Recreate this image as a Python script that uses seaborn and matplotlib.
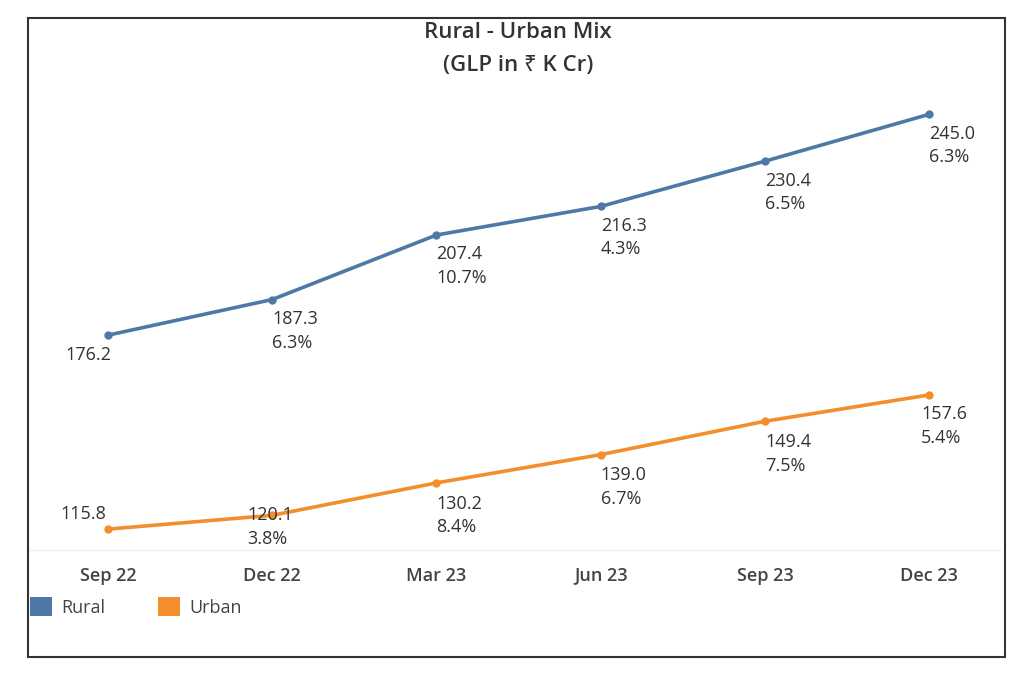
import pandas as pd
import seaborn as sns
import matplotlib.pyplot as plt
from matplotlib.patches import Patch, Rectangle

quarters = ['Sep 22', 'Dec 22', 'Mar 23', 'Jun 23', 'Sep 23', 'Dec 23']
rural = [176.2, 187.3, 207.4, 216.3, 230.4, 245.0]
urban = [115.8, 120.1, 130.2, 139.0, 149.4, 157.6]
rural_growth = ['', '6.3%', '10.7%', '4.3%', '6.5%', '6.3%']
urban_growth = ['', '3.8%', '8.4%', '6.7%', '7.5%', '5.4%']

colors = {'Rural': '#4e79a7', 'Urban': '#f28e2b'}

df = pd.DataFrame({
    'quarter': quarters * 2,
    'idx': list(range(len(quarters))) * 2,
    'value': rural + urban,
    'series': ['Rural'] * len(quarters) + ['Urban'] * len(quarters),
})

sns.set_style('white')
plt.rcParams['font.family'] = ['Open Sans', 'Noto Sans', 'DejaVu Sans']

fig = plt.figure(figsize=(10.3, 6.81), dpi=100)
ax = fig.add_axes([30 / 1030, 1 - 550 / 681, 970 / 1030, 455 / 681])

sns.lineplot(data=df, x='idx', y='value', hue='series', palette=colors,
             marker='o', markersize=6, markeredgewidth=0, linewidth=2.6,
             legend=False, ax=ax)

ax.set_xlim(-0.474, 5.43)
ax.set_ylim(109.3, 251.0)
ax.set_xticks(range(len(quarters)))
ax.set_xticklabels(quarters, fontsize=13, color='#444444', fontweight='semibold')
ax.set_yticks([])
ax.set_xlabel('')
ax.set_ylabel('')
ax.tick_params(axis='x', length=0, pad=12)
for s in ['top', 'right', 'left']:
    ax.spines[s].set_visible(False)
ax.spines['bottom'].set_color('#eeeeee')
ax.spines['bottom'].set_linewidth(1)

# label offsets in points (value line); growth line sits 17pt lower
rural_off = [(-14, -14, 'center'), (0, -14, 'left'), (0, -14, 'left'),
             (0, -14, 'left'), (0, -14, 'left'), (0, -14, 'left')]
urban_off = [(-18, 11, 'center'), (-18, 0, 'left'), (0, -15, 'left'),
             (0, -15, 'left'), (0, -15, 'left'), (-6, -14, 'left')]

txt_kw = dict(textcoords='offset points', va='center', fontsize=13, color='#333333')
for vals, growth, offs in [(rural, rural_growth, rural_off), (urban, urban_growth, urban_off)]:
    for i, (v, g, (dx, dy, ha)) in enumerate(zip(vals, growth, offs)):
        ax.annotate(f'{v:.1f}', (i, v), xytext=(dx, dy), ha=ha, **txt_kw)
        if g:
            ax.annotate(g, (i, v), xytext=(dx, dy - 17), ha=ha, **txt_kw)

fig.text(518 / 1030, 1 - 33 / 681, 'Rural - Urban Mix', ha='center', va='center',
         fontsize=16, color='#333333', fontweight='semibold')
fig.text(518 / 1030, 1 - 66 / 681, '(GLP in ₹ K Cr)', ha='center', va='center',
         fontsize=16, color='#333333', fontweight='semibold')

handles = [Patch(facecolor=colors[k], edgecolor='none', label=k) for k in colors]
fig.legend(handles=handles, loc='center left', bbox_to_anchor=(30 / 1030, 1 - 607 / 681),
           ncol=2, frameon=False, fontsize=13, handlelength=1.2, handleheight=1.2,
           columnspacing=2.9, handletextpad=0.55, borderpad=0, borderaxespad=0,
           labelcolor='#444444')

fig.patches.append(Rectangle((28 / 1030, 1 - 657 / 681), 977 / 1030, 639 / 681,
                             transform=fig.transFigure, fill=False,
                             edgecolor='#333333', linewidth=1.5))

fig.savefig('out.png', dpi=100)
